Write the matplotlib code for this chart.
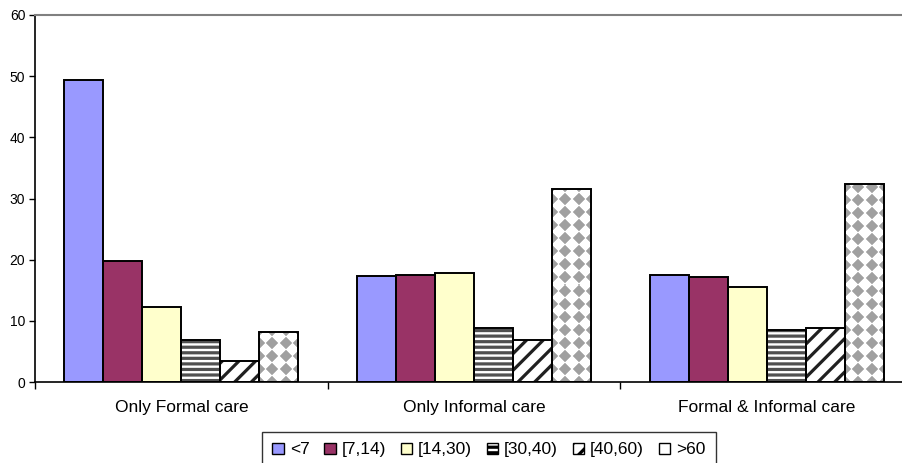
import numpy as np
import matplotlib
matplotlib.use("Agg")
import matplotlib.pyplot as plt
from matplotlib.patches import Patch

plt.rcParams['font.family'] = ['Liberation Sans', 'DejaVu Sans']
plt.rcParams['hatch.linewidth'] = 2.3

# Data
categories = ["Only Formal care", "Only Informal care", "Formal & Informal care"]
series_labels = ["<7", "[7,14)", "[14,30)", "[30,40)", "[40,60)", ">60"]
values = {
    "<7":      [49.4, 17.3, 17.5],
    "[7,14)":  [19.8, 17.5, 17.2],
    "[14,30)": [12.3, 17.8, 15.5],
    "[30,40)": [6.8, 8.9, 8.5],
    "[40,60)": [3.5, 6.8, 8.8],
    ">60":     [8.1, 31.6, 32.3],
}
y_ticks = [0, 10, 20, 30, 40, 50, 60]

# Styling per series
styles = {
    "<7":      dict(face="#9999FF", hatch=None, hcolor=None, pattern=False),
    "[7,14)":  dict(face="#993366", hatch=None, hcolor=None, pattern=False),
    "[14,30)": dict(face="#FFFFCC", hatch=None, hcolor=None, pattern=False),
    "[30,40)": dict(face="white", hatch="---", hcolor="#505050", pattern=False),
    "[40,60)": dict(face="white", hatch="//", hcolor="#202020", pattern=False),
    ">60":     dict(face="white", hatch=None, hcolor=None, pattern=True),
}

W, H, DPI = 903, 463, 100
fig = plt.figure(figsize=(W / DPI, H / DPI), dpi=DPI)
ax = fig.add_axes([35 / W, 1 - 382 / H, 878 / W, 367 / H])

n = len(series_labels)
group_span = 0.8
bw = group_span / n
x = np.arange(len(categories))

ax.set_xlim(-0.5, len(categories) - 0.5)
ax.set_ylim(0, 60)


def diamond_tile(hpx, wpx, period=13.0, gray=0.63):
    yy, xx = np.mgrid[0:hpx, 0:wpx] + 0.5
    dx = np.mod(xx + period / 2, period) - period / 2
    dy = np.mod(yy + period / 2, period) - period / 2
    d = np.abs(dx) + np.abs(dy)
    a = np.clip((0.5 * period - d) / 1.2 + 0.3, 0, 1)
    v = 1.0 * (1 - a) + gray * a
    return np.dstack([v, v, v])


for i, lab in enumerate(series_labels):
    st = styles[lab]
    pos = x + (i - (n - 1) / 2) * bw
    vals = values[lab]
    if st["hatch"]:
        ax.bar(pos, vals, bw, color=st["face"], edgecolor=st["hcolor"],
               hatch=st["hatch"], linewidth=0, zorder=2)
    else:
        ax.bar(pos, vals, bw, color=st["face"], linewidth=0, zorder=2)
    outline = ax.bar(pos, vals, bw, fill=False, edgecolor="black",
                     linewidth=1.4, zorder=4)
    if st["pattern"]:
        for rect in outline:
            x0, y0 = rect.get_x(), rect.get_y()
            x1, y1 = x0 + rect.get_width(), y0 + rect.get_height()
            p0 = ax.transData.transform((x0, y0))
            p1 = ax.transData.transform((x1, y1))
            wpx = max(int(round(p1[0] - p0[0])), 1)
            hpx = max(int(round(p1[1] - p0[1])), 1)
            im = ax.imshow(diamond_tile(hpx, wpx), extent=(x0, x1, y0, y1),
                           origin="lower", aspect="auto",
                           interpolation="nearest", zorder=3)
            clip = plt.Rectangle((x0, y0), rect.get_width(), rect.get_height(),
                                 transform=ax.transData, visible=False)
            ax.add_patch(clip)
            im.set_clip_path(clip)

ax.set_xlim(-0.5, len(categories) - 0.5)
ax.set_ylim(0, 60)

# Axes
ax.set_yticks(y_ticks)
ax.tick_params(axis="y", length=4, width=1, pad=3, labelsize=10, direction="out")
ax.set_xticks(x)
ax.set_xticklabels(categories, fontsize=12.5)
ax.tick_params(axis="x", which="major", length=0, pad=13)
ax.set_xticks(np.arange(-0.5, len(categories) - 0.5 + 1e-9, 1.0), minor=True)
ax.tick_params(axis="x", which="minor", length=5, width=1, direction="out")

for side in ("left", "bottom"):
    ax.spines[side].set_color("black")
    ax.spines[side].set_linewidth(1.2)
ax.spines["top"].set_color("#808080")
ax.spines["top"].set_linewidth(1.5)
ax.spines["right"].set_visible(False)
ax.spines["bottom"].set_zorder(5)

# Legend
handles = []
for lab in series_labels:
    st = styles[lab]
    if st["hatch"]:
        handles.append(Patch(facecolor="white", edgecolor="black",
                             hatch=st["hatch"], linewidth=1.0, label=lab))
    else:
        handles.append(Patch(facecolor=st["face"], edgecolor="black",
                             linewidth=1.0, label=lab))
leg = fig.legend(handles=handles, loc="upper center", ncol=n,
                 bbox_to_anchor=(489 / W, 1 - 432 / H), fontsize=12.5,
                 frameon=True, fancybox=False, handlelength=0.65,
                 handleheight=0.65, handletextpad=0.35, columnspacing=0.85,
                 borderpad=0.6, borderaxespad=0)
leg.get_frame().set_edgecolor("black")
leg.get_frame().set_linewidth(1.0)

fig.savefig("out.png", dpi=DPI)
